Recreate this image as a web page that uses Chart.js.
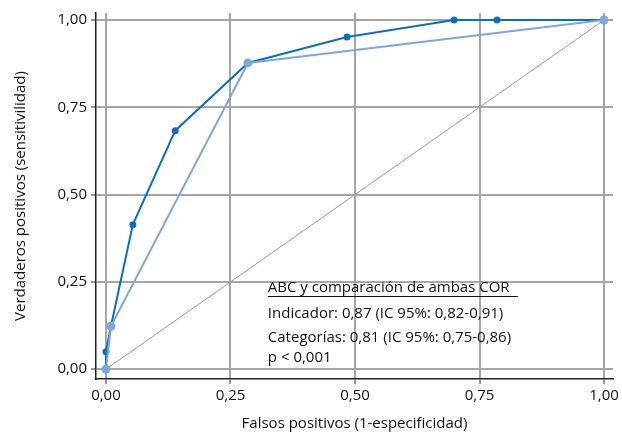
<!DOCTYPE html>
<html>
<head>
<meta charset="utf-8">
<script src="https://cdn.jsdelivr.net/npm/chart.js@4/dist/chart.umd.min.js"></script>
<style>
  body { margin: 0; background: #fff; }
  #wrap { width: 622px; height: 433px; }
</style>
</head>
<body>
<div id="wrap"><canvas id="rocChart"></canvas></div>
<script>
// ROC data
const indicadorX = [0, 0, 0.01, 0.054, 0.139, 0.285, 0.484, 0.699, 0.785, 1];
const indicadorY = [0, 0.05, 0.123, 0.414, 0.683, 0.877, 0.951, 1, 1, 1];
const categoriasX = [0, 0.01, 0.285, 1];
const categoriasY = [0, 0.123, 0.877, 1];
const diagonalX = [0, 1];
const diagonalY = [0, 1];
const tickValues = [0, 0.25, 0.5, 0.75, 1];
const noteLines = [
    'ABC y comparación de ambas COR',
    'Indicador: 0,87 (IC 95%: 0,82-0,91)',
    'Categorías: 0,81 (IC 95%: 0,75-0,86)',
    'p < 0,001'
];

const FONT = '"Open Sans", sans-serif';

const toPoints = (xs, ys) => xs.map((x, i) => ({ x: x, y: ys[i] }));
const fmt = v => v.toFixed(2).replace('.', ',');

// text box in the lower right of the plot
const notePlugin = {
    id: 'note',
    afterDatasetsDraw(chart) {
        const ctx = chart.ctx;
        const left = chart.scales.x.getPixelForValue(0.325);
        const baselines = [292, 318, 342, 362];
        ctx.save();
        ctx.fillStyle = '#111';
        ctx.font = '15px ' + FONT;
        ctx.textBaseline = 'alphabetic';
        noteLines.forEach((line, i) => {
            ctx.fillText(line, left, baselines[i]);
        });
        ctx.strokeStyle = '#111';
        ctx.lineWidth = 1.2;
        ctx.beginPath();
        ctx.moveTo(left, 296.5);
        ctx.lineTo(left + 250, 296.5);
        ctx.stroke();
        ctx.restore();
    }
};

const ctx = document.getElementById('rocChart');

new Chart(ctx, {
    type: 'scatter',
    data: {
        datasets: [
            {
                data: toPoints(categoriasX, categoriasY),
                showLine: true,
                borderColor: '#7ea7dc',
                backgroundColor: '#7ea7dc',
                borderWidth: 2,
                pointRadius: 4.5,
                pointBorderWidth: 0,
                clip: false
            },
            {
                data: toPoints(indicadorX, indicadorY),
                showLine: true,
                borderColor: '#0b6fbd',
                backgroundColor: '#0b6fbd',
                borderWidth: 2,
                pointRadius: 3.5,
                pointBorderWidth: 0,
                clip: false
            },
            {
                data: toPoints(diagonalX, diagonalY),
                showLine: true,
                borderColor: '#999999',
                borderWidth: 1,
                pointRadius: 0
            }
        ]
    },
    options: {
        responsive: true,
        maintainAspectRatio: false,
        animation: false,
        layout: { padding: { top: 10, right: 9, left: 0, bottom: 0 } },
        plugins: {
            legend: { display: false },
            tooltip: { enabled: false }
        },
        scales: {
            x: {
                type: 'linear',
                min: -0.02,
                max: 1.018,
                afterBuildTicks: s => { s.ticks = tickValues.map(v => ({ value: v })); },
                afterFit: s => { s.height = 54; },
                grid: {
                    color: '#a6a6a6',
                    lineWidth: 2,
                    tickLength: 5,
                    tickColor: '#333',
                    tickWidth: 1
                },
                border: { display: true, color: '#222', width: 1.5 },
                ticks: {
                    color: '#111',
                    font: { family: FONT, size: 15 },
                    padding: 3,
                    maxRotation: 0,
                    callback: v => fmt(v)
                },
                title: {
                    display: true,
                    text: 'Falsos positivos (1-especificidad)',
                    color: '#111',
                    font: { family: FONT, size: 15 },
                    padding: { top: 4, bottom: 0 }
                }
            },
            y: {
                type: 'linear',
                min: -0.028,
                max: 1.02,
                afterBuildTicks: s => { s.ticks = tickValues.map(v => ({ value: v })); },
                afterFit: s => { s.width = 96; },
                grid: {
                    color: '#a6a6a6',
                    lineWidth: 2,
                    tickLength: 5,
                    tickColor: '#333',
                    tickWidth: 1
                },
                border: { display: true, color: '#222', width: 1.5 },
                ticks: {
                    color: '#111',
                    font: { family: FONT, size: 15 },
                    padding: 4,
                    callback: v => fmt(v)
                },
                title: {
                    display: true,
                    text: 'Verdaderos positivos (sensitivilidad)',
                    color: '#111',
                    font: { family: FONT, size: 15 },
                    padding: { top: 12, bottom: 4 }
                }
            }
        }
    },
    plugins: [notePlugin]
});
</script>
</body>
</html>
